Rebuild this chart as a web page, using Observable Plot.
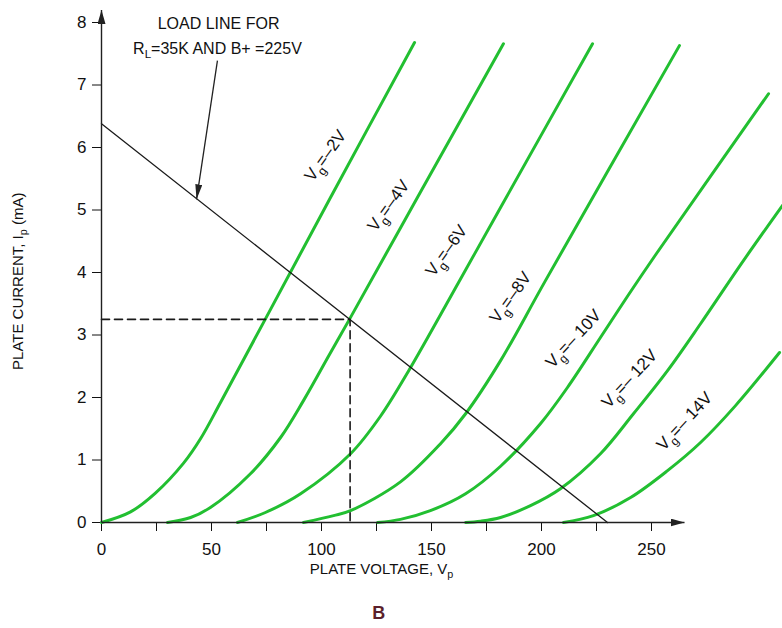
<!DOCTYPE html>
<html>
<head>
<meta charset="utf-8">
<script src="https://cdn.jsdelivr.net/npm/d3@7"></script>
<script src="https://cdn.jsdelivr.net/npm/@observablehq/plot@0.6"></script>
<style>
  body { margin: 0; background: #fff; }
  #chart svg { font-family: "Liberation Sans", Arial, sans-serif; }
  #chart svg g[aria-label*="axis"] text { font-size: 17px !important; fill: #111; }
</style>
</head>
<body>
<div id="chart"></div>
<script>
// Grid-voltage curve labels (subscript marked with "_")
const gridLabels = ["V_g=–2V", "V_g=–4V", "V_g=–6V", "V_g=–8V", "V_g=– 10V", "V_g=– 12V", "V_g=– 14V"];

// Plate characteristics: [plate voltage Vp (V), plate current Ip (mA)]
const curveVg2  = [[0,0],[13.2,0.17],[24.5,0.47],[37.3,0.95],[45.0,1.34],[54.1,1.92],[74.1,3.23],[104.1,5.20],[142.3,7.68]];
const curveVg4  = [[30,0],[40.5,0.08],[49.5,0.24],[67.7,0.78],[81.4,1.36],[91.8,1.95],[103.5,2.68],[112.7,3.25],[143.6,5.20],[182.7,7.66]];
const curveVg6  = [[61.8,0],[74.5,0.16],[90.5,0.46],[113.2,1.10],[126.8,1.70],[139.5,2.42],[162.3,3.84],[181.4,5.04],[223.2,7.66]];
const curveVg8  = [[91.8,0],[105.5,0.11],[113.2,0.19],[135.9,0.65],[154.1,1.26],[165.5,1.74],[181.4,2.59],[201.8,3.87],[262.7,7.63]];
const curveVg10 = [[125.5,0],[135.9,0.05],[149.5,0.19],[165.5,0.46],[181.4,0.90],[199.5,1.58],[211.8,2.16],[226.8,2.96],[239.1,3.62],[251.8,4.28],[303.2,6.86]];
const curveVg12 = [[165.5,0],[172.3,0.02],[181.4,0.08],[195.0,0.27],[208.6,0.54],[226.8,1.10],[241.8,1.74],[257.3,2.43],[272.3,3.18],[291.8,4.19],[309.5,5.07]];
const curveVg14 = [[210,0],[223.6,0.11],[240.5,0.40],[257.3,0.83],[272.3,1.28],[288.2,1.87],[308.2,2.72]];

// Where each curve label sits (Vp, Ip)
const labelVp = [101.8, 130.5, 156.8, 185.9, 214.5, 240, 265];
const labelIp = [5.87, 5.07, 4.35, 3.60, 2.94, 2.30, 1.62];

// Load line (RL = 35K, B+ = 225V) and operating point
const loadLine = [[0, 6.38], [230, 0]];
const operatingPoint = [113, 3.25];

// Annotation pointer: from text to the load line
const pointer = [[52.7, 7.39], [43.2, 5.17]];

// Ticks
const xTicks = [0, 25, 50, 75, 100, 125, 150, 175, 200, 225, 250];
const yTicks = [0, 1, 2, 3, 4, 5, 6, 7, 8];

const curves = [curveVg2, curveVg4, curveVg6, curveVg8, curveVg10, curveVg12, curveVg14];
const curveRows = curves.flatMap((c, k) => c.map(([v, i]) => ({v, i, g: gridLabels[k]})));
const labelRows = gridLabels.map((t, k) => ({t, v: labelVp[k], i: labelIp[k], r: k < 4 ? -54 : -47}));
const dashRows = [[0, operatingPoint[1]], [operatingPoint[0], operatingPoint[1]], [operatingPoint[0], 0]];
const axisRows = [
  {x1: 0, y1: 0, x2: 265, y2: 0},
  {x1: 0, y1: 0, x2: 0, y2: 8.2}
];
const pointerRows = [{x1: pointer[0][0], y1: pointer[0][1], x2: pointer[1][0], y2: pointer[1][1]}];

const AXIS_STROKE = "#202020";
const POINTER_STROKE = "#212121";

const chart = Plot.plot({
  width: 782,
  height: 628,
  marginLeft: 101,
  marginRight: 131,
  marginTop: 22,
  marginBottom: 106,
  style: {fontFamily: "'Liberation Sans', Arial, sans-serif", fontSize: "17px", color: "#111", background: "#fff", overflow: "visible"},
  x: {domain: [0, 250], ticks: xTicks, tickFormat: d => (d % 50 === 0 ? String(d) : ""), tickSize: 9, tickPadding: 11, label: null},
  y: {domain: [0, 8], ticks: yTicks, tickSize: 9, tickPadding: 6, label: null},
  marks: [
    Plot.line(curveRows, {x: "v", y: "i", z: "g", stroke: "#22bf31", strokeWidth: 3, curve: "catmull-rom"}),
    Plot.line(loadLine, {x: d => d[0], y: d => d[1], stroke: "#1a1a1a", strokeWidth: 1.3}),
    Plot.line(dashRows, {x: d => d[0], y: d => d[1], stroke: "#1a1a1a", strokeWidth: 1.6, strokeDasharray: "8,5"}),
    Plot.link(axisRows, {x1: "x1", y1: "y1", x2: "x2", y2: "y2", stroke: AXIS_STROKE, strokeWidth: 1.4}),
    Plot.link(pointerRows, {x1: "x1", y1: "y1", x2: "x2", y2: "y2", stroke: POINTER_STROKE, strokeWidth: 1.3}),
    Plot.text(labelRows, {x: "v", y: "i", text: "t", rotate: "r", fontSize: 17, fill: "#111"}),
    Plot.text(["LOAD LINE FOR"], {x: 53.2, y: 7.98, text: d => d, fontSize: 16, fill: "#111"}),
    Plot.text(["R_L=35K AND B+ =225V"], {x: 52.7, y: 7.58, text: d => d, fontSize: 16, fill: "#111"}),
    Plot.text(["PLATE VOLTAGE, V_p"], {x: 127.3, frameAnchor: "bottom", dy: 51, text: d => d, fontSize: 15, fill: "#111"}),
    Plot.text(["PLATE CURRENT, I_p (mA)"], {y: 3.86, frameAnchor: "left", textAnchor: "middle", dx: -83, rotate: -90, text: d => d, fontSize: 15, fill: "#111"}),
    Plot.text(["B"], {x: 126, frameAnchor: "bottom", dy: 96, text: d => d, fontSize: 18, fontWeight: "bold", fill: "#5b1f2b"})
  ]
});

document.getElementById("chart").appendChild(chart);

// Subscripts
const NS = "http://www.w3.org/2000/svg";
chart.querySelectorAll("text").forEach(t => {
  const s = t.textContent;
  if (!s.includes("_")) return;
  const m = s.match(/^(.*?)_(\w)(.*)$/);
  if (!m) return;
  const fs = parseFloat(getComputedStyle(t).fontSize) || 16;
  const off = Math.round(fs * 0.28);
  t.textContent = "";
  const a = document.createElementNS(NS, "tspan"); a.textContent = m[1];
  const b = document.createElementNS(NS, "tspan"); b.textContent = m[2];
  b.setAttribute("dy", off); b.setAttribute("font-size", (fs * 0.72).toFixed(1));
  const c = document.createElementNS(NS, "tspan"); c.textContent = m[3];
  c.setAttribute("dy", -off);
  t.append(a, b, c);
});

// Filled arrowheads
const defs = document.createElementNS(NS, "defs");
function marker(id, len, wid) {
  const mk = document.createElementNS(NS, "marker");
  mk.setAttribute("id", id);
  mk.setAttribute("markerUnits", "userSpaceOnUse");
  mk.setAttribute("markerWidth", len);
  mk.setAttribute("markerHeight", wid);
  mk.setAttribute("viewBox", `0 0 ${len} ${wid}`);
  mk.setAttribute("refX", len);
  mk.setAttribute("refY", wid / 2);
  mk.setAttribute("orient", "auto");
  const p = document.createElementNS(NS, "path");
  p.setAttribute("d", `M0,0L${len},${wid / 2}L0,${wid}Z`);
  p.setAttribute("fill", "#222");
  mk.appendChild(p);
  defs.appendChild(mk);
}
marker("axisHead", 14, 8);
marker("pointerHead", 15, 7);
chart.insertBefore(defs, chart.firstChild);
function strokeOf(el) {
  let n = el;
  while (n && n !== chart) {
    const s = n.getAttribute && n.getAttribute("stroke");
    if (s) return s.toLowerCase();
    n = n.parentNode;
  }
  return null;
}
chart.querySelectorAll("path, line").forEach(p => {
  if (p.closest("marker")) return;
  const s = strokeOf(p);
  if (s === AXIS_STROKE) p.setAttribute("marker-end", "url(#axisHead)");
  else if (s === POINTER_STROKE) p.setAttribute("marker-end", "url(#pointerHead)");
});
</script>
</body>
</html>
